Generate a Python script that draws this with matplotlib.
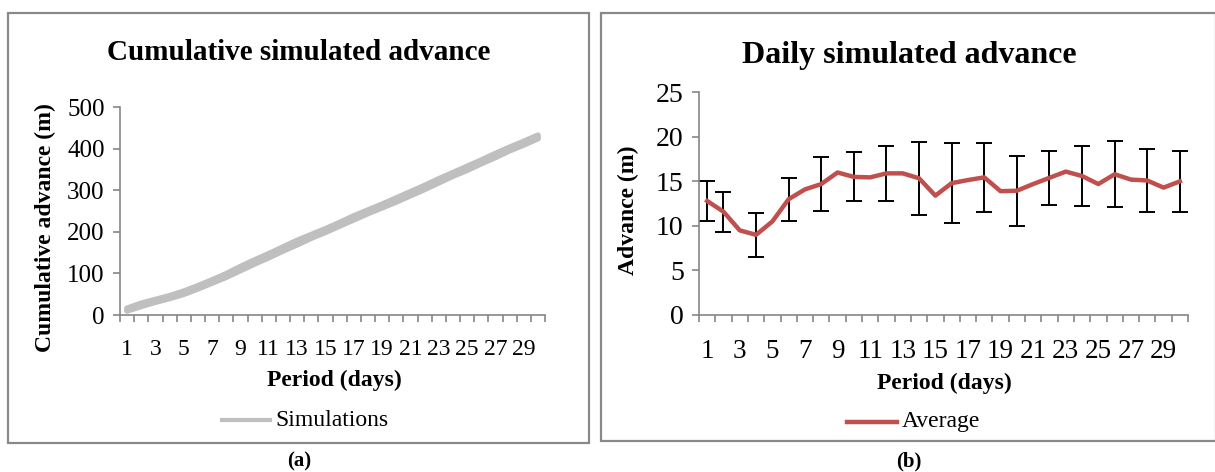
import matplotlib
matplotlib.use("Agg")
import matplotlib.pyplot as plt
from matplotlib.patches import Rectangle
import numpy as np

plt.rcParams["font.family"] = ["Liberation Serif", "DejaVu Serif"]

# ---- data ----
days = list(range(1, 31))
day_labels = [str(d) if d % 2 == 1 else "" for d in days]

# cumulative advance (m): a few overlapping simulation runs (grey band)
sim_low = [10, 21, 31, 40, 50, 63, 77, 91, 107, 123, 138, 154, 169, 185, 199,
           214, 229, 244, 258, 272, 287, 302, 318, 334, 348, 364, 379, 395, 409, 424]
sim_mid = [13, 24, 34, 43, 53, 66, 80, 95, 111, 127, 142, 158, 174, 189, 203,
           218, 233, 248, 262, 276, 291, 306, 322, 338, 352, 368, 383, 399, 413, 428]
sim_high = [16, 28, 37, 46, 57, 70, 84, 99, 116, 132, 147, 163, 179, 193, 207,
            222, 238, 252, 266, 281, 296, 311, 327, 342, 357, 372, 388, 403, 417, 432]

# daily advance (m): average of simulations
avg = [12.8, 11.6, 9.5, 9.0, 10.5, 13.0, 14.1, 14.7, 16.0, 15.5,
       15.45, 15.9, 15.9, 15.35, 13.4, 14.8, 15.15, 15.45, 13.9, 13.95,
       14.7, 15.4, 16.1, 15.6, 14.7, 15.8, 15.2, 15.1, 14.3, 15.0]
# error bars (+/- sd) shown only on these days
err_days = [1, 2, 4, 6, 8, 10, 12, 14, 16, 18, 20, 22, 24, 26, 28, 30]
err_sd = [2.2, 2.25, 2.45, 2.4, 3.0, 2.75, 3.05, 4.1, 4.5, 3.9,
          3.95, 3.0, 3.35, 3.7, 3.55, 3.45]

GREY_AX = "#868686"
W, H = 1215, 472

fig = plt.figure(figsize=(W / 100, H / 100), dpi=100)


def fx(px):
    return px / W


def fy(py):
    return 1 - py / H


# panel frames
for x0, x1, y0, y1 in [(8, 589, 13, 443), (601, 1216, 13, 441)]:
    fig.patches.append(Rectangle((fx(x0), fy(y1)), fx(x1 - x0), (y1 - y0) / H,
                                 transform=fig.transFigure, fill=False,
                                 edgecolor="#898989", linewidth=1.6))


def style_axis(ax, xfs, yfs):
    for s in ("top", "right"):
        ax.spines[s].set_visible(False)
    for s in ("left", "bottom"):
        ax.spines[s].set_color(GREY_AX)
        ax.spines[s].set_linewidth(1.2)
    ax.set_xlim(0.5, 30.5)
    ax.set_xticks(np.arange(0.5, 31, 1))
    ax.set_xticklabels([])
    ax.set_xticks(days, minor=True)
    ax.set_xticklabels(day_labels, minor=True, fontsize=xfs)
    ax.tick_params(axis="x", which="major", length=5, color=GREY_AX, width=1.2)
    ax.tick_params(axis="x", which="minor", length=0, pad=17)
    ax.tick_params(axis="y", length=5, color=GREY_AX, width=1.2, labelsize=yfs, pad=6)


# ---- (a) cumulative ----
ax1 = fig.add_axes([fx(120), fy(315), fx(545 - 120), (315 - 107) / H])
for s in (sim_low, sim_mid, sim_high):
    ax1.plot(days, s, color="#BFBFBF", linewidth=4.2, solid_capstyle="round")
ax1.set_ylim(0, 500)
ax1.set_yticks(range(0, 501, 100))
style_axis(ax1, 17, 18)

fig.text(fx(299), fy(52), "Cumulative simulated advance", ha="center", va="center",
         fontsize=21, fontweight="bold")
fig.text(fx(45), fy(228), "Cumulative advance (m)", ha="center", va="center",
         rotation=90, fontsize=17, fontweight="bold")
fig.text(fx(334), fy(380), "Period (days)", ha="center", va="center",
         fontsize=17, fontweight="bold")
fig.lines.append(plt.Line2D([fx(222), fx(270)], [fy(420), fy(420)],
                            transform=fig.transFigure, color="#BFBFBF", linewidth=3))
fig.text(fx(275), fy(420), "Simulations", ha="left", va="center", fontsize=17)
fig.text(fx(299), fy(461), "(a)", ha="center", va="center", fontsize=15, fontweight="bold")

# ---- (b) daily ----
ax2 = fig.add_axes([fx(699), fy(315), fx(1188 - 699), (315 - 92.3) / H])
ax2.plot(days, avg, color="#C0504D", linewidth=3.2, zorder=3)
err_y = [avg[d - 1] for d in err_days]
ax2.errorbar(err_days, err_y, yerr=err_sd, fmt="none", ecolor="black",
             elinewidth=1.4, capsize=5.5, capthick=1.4, zorder=2)
ax2.set_ylim(0, 25)
ax2.set_yticks(range(0, 26, 5))
style_axis(ax2, 19.5, 20)

fig.text(fx(909), fy(55), "Daily simulated advance", ha="center", va="center",
         fontsize=23, fontweight="bold")
fig.text(fx(628), fy(210), "Advance (m)", ha="center", va="center",
         rotation=90, fontsize=17, fontweight="bold")
fig.text(fx(944), fy(383), "Period (days)", ha="center", va="center",
         fontsize=17, fontweight="bold")
fig.lines.append(plt.Line2D([fx(847), fx(897)], [fy(422), fy(422)],
                            transform=fig.transFigure, color="#C0504D", linewidth=3.2))
fig.text(fx(902), fy(422), "Average", ha="left", va="center", fontsize=17)
fig.text(fx(909), fy(461), "(b)", ha="center", va="center", fontsize=15, fontweight="bold")

fig.savefig("out.png", dpi=100)
